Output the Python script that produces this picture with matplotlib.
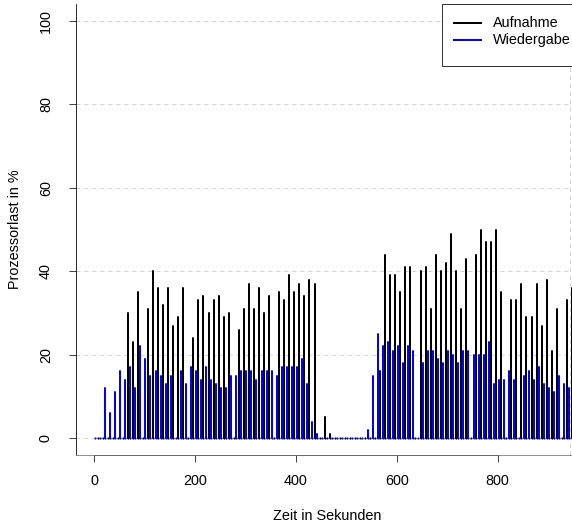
import numpy as np
import matplotlib.pyplot as plt
from matplotlib.patches import Rectangle
from matplotlib.lines import Line2D

# Prozessorlast in %, ein Messwert alle 10 Sekunden
aufnahme = [0, 0, 0, 0, 0, 0, 30, 23, 35, 0,
            31, 40, 36, 32, 36, 27, 29, 36, 0, 24,
            33, 34, 30, 33, 34, 29, 30, 0, 26, 31,
            37, 31, 36, 30, 34, 0, 35, 33, 39, 35,
            37, 34, 38, 37, 0, 5, 1, 0, 0, 0,
            0, 0, 0, 0, 0, 0, 16, 44, 39, 39,
            35, 41, 41, 0, 40, 41, 31, 44, 40, 42,
            49, 40, 31, 43, 0, 44, 50, 47, 47, 50,
            35, 0, 33, 33, 37, 29, 29, 37, 27, 38,
            21, 31, 0, 33, 36]
wiedergabe = [0, 0, 12, 6, 11, 16, 14, 17, 12, 22,
              19, 15, 16, 15, 13, 15, 0, 16, 13, 17,
              16, 14, 17, 14, 13, 12, 12, 15, 15, 16,
              16, 16, 14, 16, 16, 16, 15, 17, 17, 17,
              17, 19, 13, 4, 1, 0, 0, 0, 0, 0,
              0, 0, 0, 0, 2, 15, 25, 22, 23, 21,
              22, 18, 22, 21, 0, 18, 21, 21, 19, 18,
              21, 20, 18, 21, 21, 20, 20, 20, 23, 13,
              14, 14, 16, 14, 0, 15, 16, 14, 17, 13,
              12, 11, 15, 13, 12]
n = len(aufnahme)
t_aufnahme = np.arange(n) * 10 + 7
t_wiedergabe = np.arange(n) * 10 + 2

x_ticks = [0, 200, 400, 600, 800]
y_ticks = [0, 20, 40, 60, 80, 100]

plt.rcParams['font.family'] = ['Liberation Sans', 'DejaVu Sans']
plt.rcParams['font.size'] = 14.4

W, H = 572, 524
fig = plt.figure(figsize=(W / 72, H / 72), dpi=72)
ax = fig.add_axes([75.9 / W, (H - 455) / H, 515.1 / W, 451 / H])

# gitter
for y in y_ticks:
    ax.axhline(y, color='lightgray', lw=1, ls=(0, (4, 4)), zorder=0)
ax.axvline(943, color='lightgray', lw=1, ls=(0, (4, 4)), zorder=0)

# type="h"-Linien, runde Enden -> auch bei 0 ein Punkt
for t, v, col in [(t_aufnahme, aufnahme, 'black'),
                  (t_wiedergabe, wiedergabe, 'blue')]:
    ax.vlines(t, 0, v, colors=col, linewidth=2, capstyle='round', zorder=2)
    ax.plot(t, np.zeros(n), 'o', ms=2.2, mew=0, color=col, zorder=2)

ax.set_xlim(-35.8, 984.8)
ax.set_ylim(-4, 104)
ax.set_xticks(x_ticks)
ax.set_yticks(y_ticks)
ax.set_yticklabels([str(v) for v in y_ticks], rotation=90, va='center')
ax.tick_params(direction='out', length=7, width=1, colors='#444444',
               labelcolor='black')
ax.tick_params(axis='x', pad=12)
ax.tick_params(axis='y', pad=16)

ax.spines['top'].set_visible(False)
ax.spines['right'].set_visible(False)
ax.spines['left'].set_color('black')
ax.spines['bottom'].set_color('#777777')
ax.plot([0, 800], [0, 0], color='#333333', lw=1,
        transform=ax.get_xaxis_transform(), clip_on=False)

fig.text(327 / W, 1 - 516 / H, 'Zeit in Sekunden', ha='center', va='center')
fig.text(15 / W, 1 - 229 / H, 'Prozessorlast in %', ha='center', va='center',
         rotation=90)

# legende
def px(x, y):
    return (x - 75.9) / 515.1, (455 - y) / 451

x0, y0 = px(442, 65.7)
x1, y1 = px(600, 4)
ax.add_patch(Rectangle((x0, y0), x1 - x0, y1 - y0, transform=ax.transAxes,
                       facecolor='white', edgecolor='#333333', lw=1,
                       zorder=5, clip_on=False))
for label, col, yy in [('Aufnahme', 'black', 22.7), ('Wiedergabe', 'blue', 40)]:
    a, b = px(454, yy)
    c, _ = px(481, yy)
    ax.add_line(Line2D([a, c], [b, b], color=col, lw=2,
                       transform=ax.transAxes, zorder=6, clip_on=False))
    tx, _ = px(493, yy)
    ax.text(tx, b, label, transform=ax.transAxes, va='center', ha='left',
            zorder=6)

fig.savefig('out.png', dpi=72)
